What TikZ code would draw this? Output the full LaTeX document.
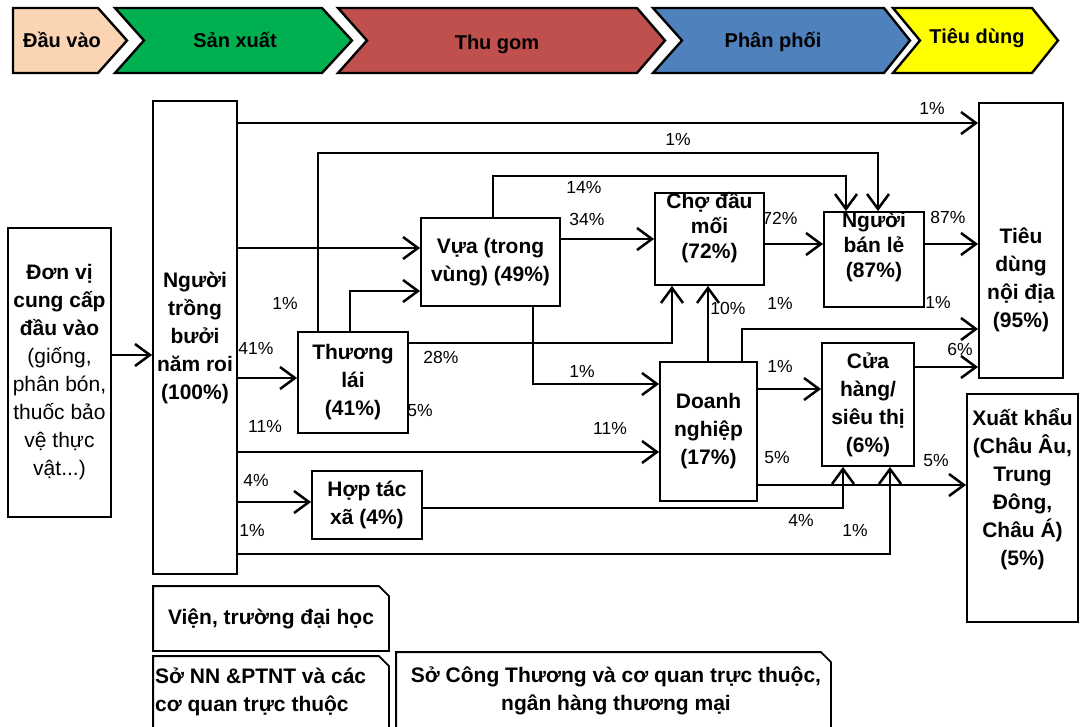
\documentclass[tikz,border=0pt]{standalone}
\usepackage{fontspec}
\setmainfont{Liberation Sans}
\usetikzlibrary{arrows.meta}
\newcommand{\boxfont}{\fontsize{21}{28}\selectfont\bfseries}
\newcommand{\tightfont}{\fontsize{21}{25}\selectfont\bfseries}
\newcommand{\pctfont}{\fontsize{17.5}{20}\selectfont}
\newcommand{\stagefont}{\fontsize{20}{24}\selectfont\bfseries}

\begin{document}
\begin{tikzpicture}[x=1pt,y=-1pt,
    stage/.style={draw,line width=2.4pt,line join=miter},
    stagetext/.style={font=\stagefont,inner sep=0pt},
    box/.style={draw,line width=1.8pt,inner sep=0pt,align=center,font=\boxfont},
    snipbox/.style={box,draw=none},
    snip/.style={line width=1.8pt,line join=miter},
    boxtext/.style={inner sep=0pt,align=center,font=\boxfont},
    pct/.style={inner sep=0pt,font=\pctfont},
    arr/.style={-{Straight Barb[length=15pt,width=22pt,line width=2.5pt]}},
    thickln/.style={line width=2.6pt},
    medln/.style={line width=2pt},
    thinln/.style={line width=1.4pt}]
    \useasboundingbox (0,0) rectangle (1080,727);

    % Stages
    \draw[stage,fill={rgb,255:red,251;green,212;blue,180}] (13,8) -- (98,8) -- (127,40.5) -- (98,73) -- (13,73) -- cycle;
    \draw[stage,fill={rgb,255:red,0;green,176;blue,80}] (115,8) -- (322,8) -- (352,40.5) -- (322,73) -- (115,73) -- (144,40.5) -- cycle;
    \draw[stage,fill={rgb,255:red,192;green,80;blue,77}] (338,8) -- (637,8) -- (665,40.5) -- (637,73) -- (338,73) -- (367,40.5) -- cycle;
    \draw[stage,fill={rgb,255:red,79;green,129;blue,189}] (653,8) -- (884,8) -- (910,40.5) -- (884,73) -- (653,73) -- (682,40.5) -- cycle;
    \draw[stage,fill={rgb,255:red,255;green,255;blue,0}] (893,8) -- (1032,8) -- (1058,40.5) -- (1032,73) -- (893,73) -- (920,40.5) -- cycle;
    \node[stagetext] (s-dauvao) at (62,40) {Đầu vào};
    \node[stagetext] (s-sanxuat) at (235,40) {Sản xuất};
    \node[stagetext] (s-thugom) at (497,44) {Thu gom};
    \node[stagetext] (s-phanphoi) at (773,42) {Phân phối};
    \node[stagetext] (s-tieudung) at (977,38) {Tiêu dùng};

    % Actors
    \node[box,minimum width=103pt,minimum height=289pt] (don) at (59.5,372.5) {Đơn vị\\cung cấp\\đầu vào\\\mdseries(giống,\\\mdseries phân bón,\\\mdseries thuốc bảo\\\mdseries vệ thực\\\mdseries vật...)};
    \node[box,minimum width=84pt,minimum height=473pt] (nguoi) at (195,337.5) {Người\\trồng\\bưởi\\năm roi\\(100\%)};
    \node[box,minimum width=110pt,minimum height=101pt] (tl) at (353,382.5) {Thương\\lái\\(41\%)};
    \node[box,minimum width=139pt,minimum height=88pt] (vua) at (490.5,262) {Vựa (trong\\vùng) (49\%)};
    \node[box,minimum width=109pt,minimum height=92pt] (cho) at (709.5,239) {};
    \node[boxtext,font=\tightfont] (t-cho) at (709.5,228) {Chợ đầu\\mối\\(72\%)};
    \node[box,minimum width=100pt,minimum height=95pt] (banle) at (874,259.5) {};
    \node[boxtext,font=\tightfont] (t-banle) at (874,247) {Người\\bán lẻ\\(87\%)};
    \node[box,minimum width=84pt,minimum height=275pt] (tieudung) at (1021,240.5) {};
    \node[boxtext] (t-tieudung) at (1021,279.5) {Tiêu\\dùng\\nội địa\\(95\%)};
    \node[box,minimum width=97pt,minimum height=139pt] (dn) at (708.5,431.5) {Doanh\\nghiệp\\(17\%)};
    \node[box,minimum width=92pt,minimum height=123pt] (ch) at (868,404.5) {Cửa\\hàng/\\siêu thị\\(6\%)};
    \node[box,minimum width=111pt,minimum height=228pt] (xk) at (1022.5,508) {};
    \node[boxtext] (t-xk) at (1022.5,489) {Xuất khẩu\\(Châu Âu,\\Trung\\Đông,\\Châu Á)\\(5\%)};
    \node[box,minimum width=110pt,minimum height=68pt] (htx) at (367,505) {Hợp tác\\xã (4\%)};

    % Support institutions
    \node[snipbox,minimum width=234pt,minimum height=63pt] (vien) at (271,618.5) {Viện, trường đại học};
    \draw[snip] (vien.south west) -- (vien.north west) -- ([xshift=-10pt]vien.north east) -- ([yshift=-10pt]vien.north east) -- (vien.south east) -- cycle;
    \node[snipbox,minimum width=234pt,minimum height=100pt] (songn) at (271,707) {};
    \draw[snip] (songn.south west) -- (songn.north west) -- ([xshift=-10pt]songn.north east) -- ([yshift=-10pt]songn.north east) -- (songn.south east) -- cycle;
    \node[boxtext,align=left,anchor=west] (t-songn) at (155,691.5) {Sở NN \&PTNT và các\\cơ quan trực thuộc};
    \node[snipbox,minimum width=433pt,minimum height=100pt] (soct) at (613.5,703) {};
    \draw[snip] (soct.south west) -- (soct.north west) -- ([xshift=-10pt]soct.north east) -- ([yshift=-10pt]soct.north east) -- (soct.south east) -- cycle;
    \node[boxtext] (t-soct) at (616,691) {Sở Công Thương và cơ quan trực thuộc,\\ngân hàng thương mại};

    % Flows
    \draw[thickln,arr] (don.east |- 0,355) -- (nguoi.west |- 0,355);
    \draw[thickln,arr] (nguoi.east |- 0,123) -- (tieudung.west |- 0,123);
    \draw[thinln,arr] (318,0 |- tl.north) -- (318,153) -| (878,0 |- banle.north);
    \draw[thinln,arr] (493,0 |- vua.north) -- (493,176) -| (846,0 |- banle.north);
    \draw[thickln,arr] (nguoi.east |- 0,248) -- (vua.west |- 0,248);
    \draw[thickln,arr] (350,0 |- tl.north) |- (vua.west |- 0,291);
    \draw[thickln,arr] (nguoi.east |- 0,378) -- (tl.west |- 0,378);
    \draw[thickln,arr] (vua.east |- 0,239) -- (cho.west |- 0,239);
    \draw[thickln,arr] (cho.east |- 0,244) -- (banle.west |- 0,244);
    \draw[thickln,arr] (banle.east |- 0,244) -- (tieudung.west |- 0,244);
    \draw[medln,arr] (tl.east |- 0,343) -| (672,0 |- cho.south);
    \draw[thickln,arr] (708,0 |- dn.north) -- (708,0 |- cho.south);
    \draw[medln,arr] (533,0 |- vua.south) |- (dn.west |- 0,384);
    \draw[thickln,arr] (nguoi.east |- 0,452) -- (dn.west |- 0,452);
    \draw[medln,arr] (742,0 |- dn.north) |- (tieudung.west |- 0,329);
    \draw[thickln,arr] (dn.east |- 0,389) -- (ch.west |- 0,389);
    \draw[thickln,arr] (ch.east |- 0,367) -- (tieudung.west |- 0,367);
    \draw[thickln,arr] (dn.east |- 0,485) -- (xk.west |- 0,485);
    \draw[thinln,arr] (htx.east |- 0,508) -| (843,0 |- ch.south);
    \draw[thinln,arr] (nguoi.east |- 0,554) -| (890,0 |- ch.south);
    \draw[thickln,arr] (nguoi.east |- 0,502) -- (htx.west |- 0,502);

    % Shares
    \node[pct] (p1) at (932,108) {1\%};
    \node[pct] (p2) at (678,139) {1\%};
    \node[pct] (p3) at (584,187) {14\%};
    \node[pct] (p4) at (587,219) {34\%};
    \node[pct] (p5) at (780,218) {72\%};
    \node[pct] (p6) at (948,217) {87\%};
    \node[pct] (p7) at (285,303) {1\%};
    \node[pct] (p8) at (256,348) {41\%};
    \node[pct] (p9) at (441,357) {28\%};
    \node[pct] (p10) at (728,308) {10\%};
    \node[pct] (p11) at (780,303) {1\%};
    \node[pct] (p12) at (938,302) {1\%};
    \node[pct] (p13) at (960,349) {6\%};
    \node[pct] (p14) at (582,371) {1\%};
    \node[pct] (p15) at (780,366) {1\%};
    \node[pct] (p16) at (420,411) {5\%};
    \node[pct] (p17) at (265,426) {11\%};
    \node[pct] (p18) at (610,428) {11\%};
    \node[pct] (p19) at (777,458) {5\%};
    \node[pct] (p20) at (936,461) {5\%};
    \node[pct] (p21) at (256,480) {4\%};
    \node[pct] (p22) at (252,530) {1\%};
    \node[pct] (p23) at (801,520) {4\%};
    \node[pct] (p24) at (855,530) {1\%};
\end{tikzpicture}
\end{document}
